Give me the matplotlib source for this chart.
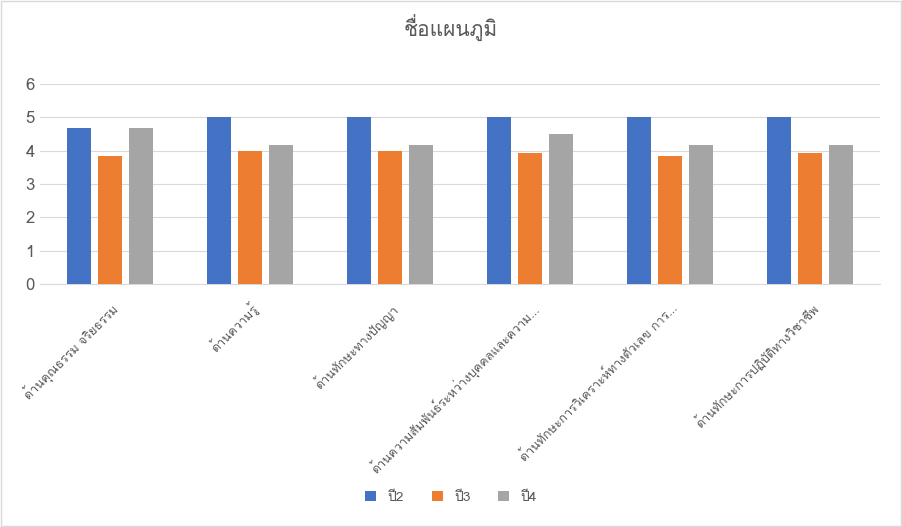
import matplotlib
matplotlib.use("Agg")
from matplotlib import pyplot as plt
from matplotlib import font_manager
from matplotlib.ft2font import FT2Font
import numpy as np

# look for any installed font that has Thai glyphs
thai = []
for f in font_manager.fontManager.ttflist:
    try:
        if 0x0E01 in FT2Font(f.fname).get_charmap() and f.name not in thai:
            thai.append(f.name)
    except Exception:
        pass
plt.rcParams['font.family'] = thai[:2] + ['DejaVu Sans']

categories = ["ด้านคุณธรรม จริยธรรม", "ด้านความรู้", "ด้านทักษะทางปัญญา",
              "ด้านความสัมพันธ์ระหว่างบุคคลและความ...",
              "ด้านทักษะการวิเคราะห์ทางตัวเลข การ...",
              "ด้านทักษะการปฏิบัติทางวิชาชีพ"]
y2 = [4.67, 5, 5, 5, 5, 5]
y3 = [3.83, 4, 4, 3.92, 3.83, 3.92]
y4 = [4.67, 4.17, 4.17, 4.5, 4.17, 4.17]
series = [("ปี2", y2, "#4472C4"), ("ปี3", y3, "#ED7D31"), ("ปี4", y4, "#A5A5A5")]

fig = plt.figure(figsize=(9.02, 5.27), dpi=100)
fig.patches.append(plt.Rectangle((0.001, 0.001), 0.998, 0.997, transform=fig.transFigure,
                                 fill=False, edgecolor="#D9D9D9", linewidth=1))
ax = fig.add_axes([0.044, 0.461, 0.932, 0.38])

x = np.arange(len(categories))
w = 0.22
for i, (name, vals, col) in enumerate(series):
    ax.bar(x + (i - 1) * w, vals, w * 0.78, color=col, label=name, zorder=3)

ax.set_ylim(0, 6)
ax.set_xlim(-0.5, len(categories) - 0.5)
ax.set_yticks(range(7))
ax.grid(axis='y', color="#D9D9D9", linewidth=0.8, zorder=0)
for s in ["top", "right", "left"]:
    ax.spines[s].set_visible(False)
ax.spines["bottom"].set_color("#D9D9D9")
ax.tick_params(length=0, labelsize=12, colors="#595959")
ax.set_xticks(x)
ax.set_xticklabels(categories, rotation=45, ha="right", rotation_mode="anchor", fontsize=9)
ax.tick_params(axis='x', pad=12)
fig.text(0.5, 0.93, "ชื่อแผนภูมิ", ha="center", fontsize=15, color="#595959")
fig.legend(loc="lower center", bbox_to_anchor=(0.5, 0.02), ncol=3, frameon=False,
           fontsize=10, handlelength=0.8, handleheight=0.8, labelcolor="#595959")
fig.savefig("out.png", dpi=100)
